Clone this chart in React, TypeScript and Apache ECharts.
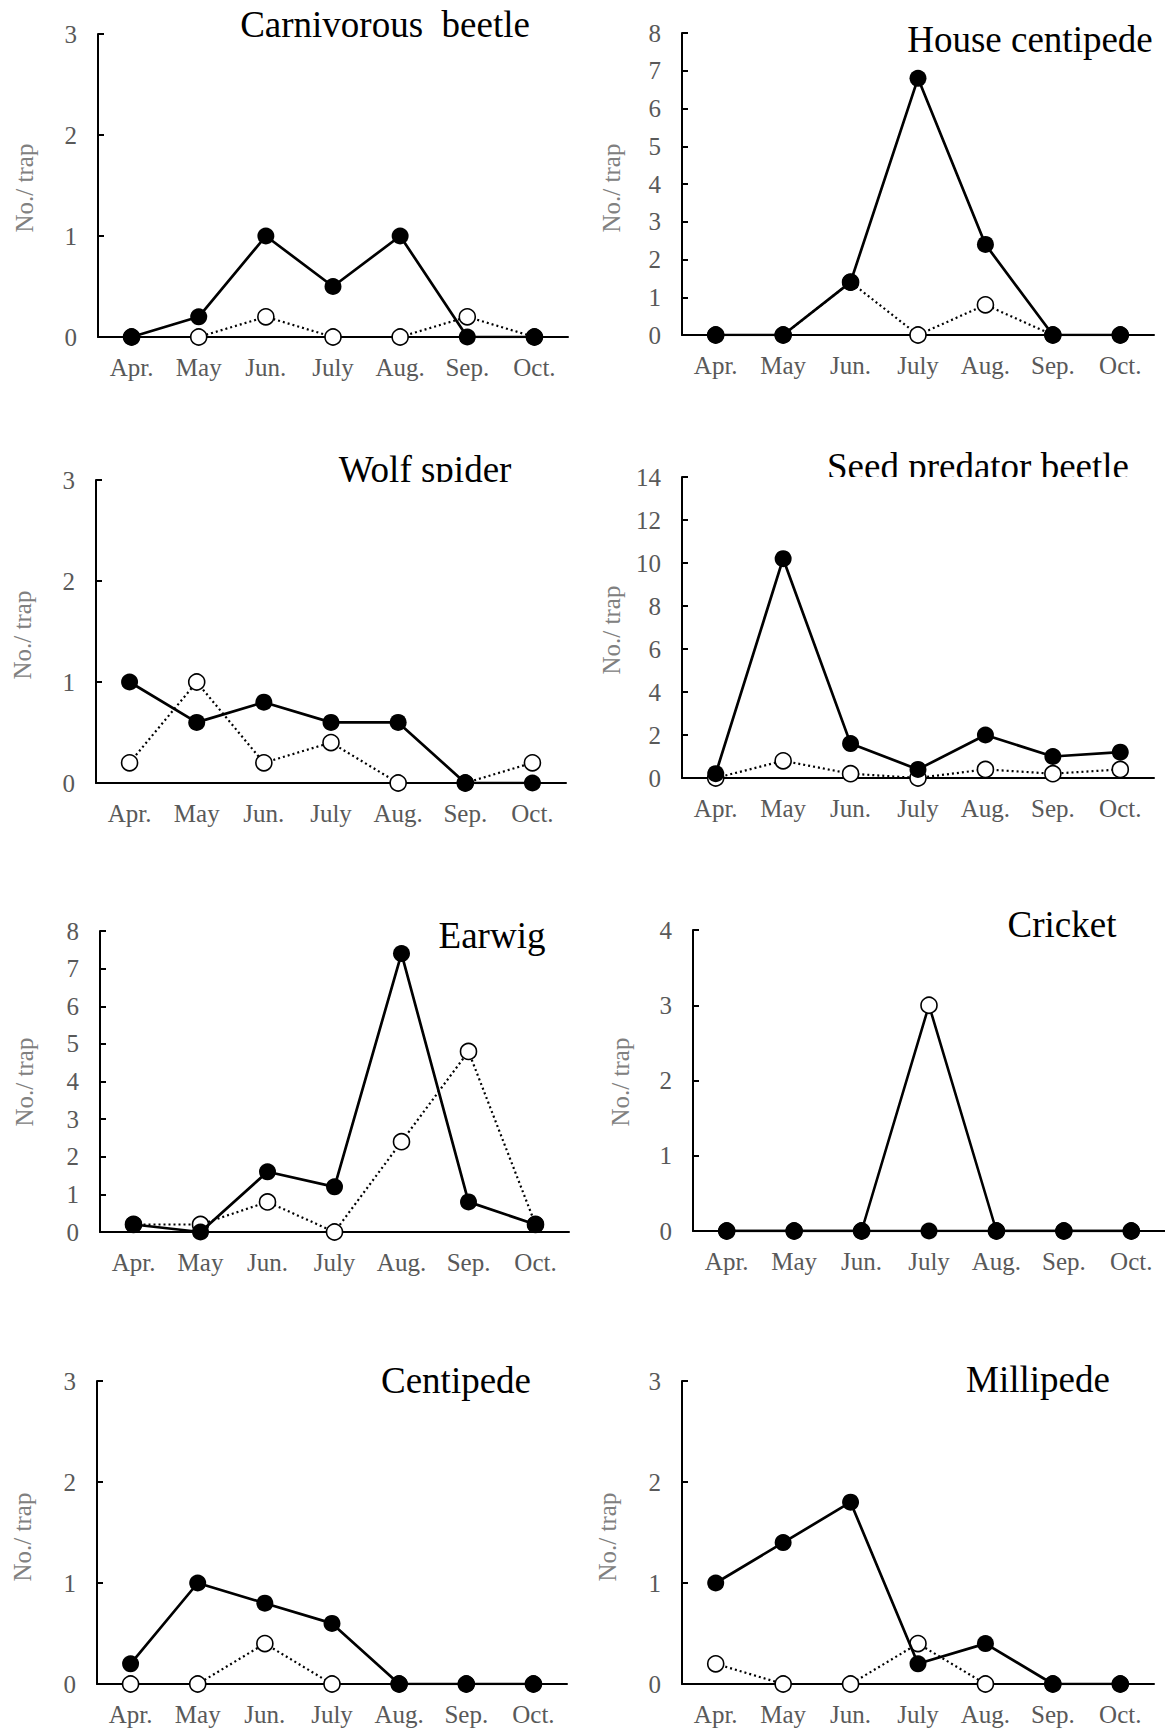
import React, { useEffect, useRef } from "react";
import * as echarts from "echarts";

const months = ["Apr.", "May", "Jun.", "July", "Aug.", "Sep.", "Oct."];

const titles = [
  "Carnivorous  beetle",
  "House centipede",
  "Wolf spider",
  "Seed predator beetle",
  "Earwig",
  "Cricket",
  "Centipede",
  "Millipede",
];

// filled circles (solid line)
const carnivorousFilled = [0, 0.2, 1, 0.5, 1, 0, 0];
const houseCentFilled = [0, 0, 1.4, 6.8, 2.4, 0, 0];
const wolfFilled = [1, 0.6, 0.8, 0.6, 0.6, 0, 0];
const seedFilled = [0.2, 10.2, 1.6, 0.4, 2.0, 1.0, 1.2];
const earwigFilled = [0.2, 0, 1.6, 1.2, 7.4, 0.8, 0.2];
const cricketFilled = [0, 0, 0, 0, 0, 0, 0];
const centipedeFilled = [0.2, 1, 0.8, 0.6, 0, 0, 0];
const millipedeFilled = [1, 1.4, 1.8, 0.2, 0.4, 0, 0];

// open circles (dotted line)
const carnivorousOpen = [0, 0, 0.2, 0, 0, 0.2, 0];
const houseCentOpen = [0, 0, 1.4, 0, 0.8, 0, 0];
const wolfOpen = [0.2, 1, 0.2, 0.4, 0, 0, 0.2];
const seedOpen = [0, 0.8, 0.2, 0, 0.4, 0.2, 0.4];
const earwigOpen = [0.2, 0.2, 0.8, 0, 2.4, 4.8, 0.2];
const cricketOpen = [0, 0, 0, 3, 0, 0, 0];
const centipedeOpen = [0, 0, 0.4, 0, 0, 0, 0];
const millipedeOpen = [0.2, 0, 0, 0.4, 0, 0, 0];

const yMax = [3, 8, 3, 14, 8, 4, 3, 3];
const yInterval = [1, 1, 1, 2, 1, 1, 1, 1];

const filledSets = [
  carnivorousFilled,
  houseCentFilled,
  wolfFilled,
  seedFilled,
  earwigFilled,
  cricketFilled,
  centipedeFilled,
  millipedeFilled,
];
const openSets = [
  carnivorousOpen,
  houseCentOpen,
  wolfOpen,
  seedOpen,
  earwigOpen,
  cricketOpen,
  centipedeOpen,
  millipedeOpen,
];
const openSolid = [false, false, false, false, false, true, false, false];

// layout: [left, top, width, height]
const grids = [
  [98, 34, 470, 303],
  [682, 33, 472, 302],
  [96, 480, 470, 303],
  [682, 477, 472, 301],
  [100, 931, 469, 301],
  [693, 930, 472, 301],
  [97, 1381, 470, 303],
  [682, 1381, 472, 303],
];
const titlePos = [
  [385, 24],
  [1030, 39],
  [425, 469],
  [978, 466],
  [492, 935],
  [1062, 924],
  [456, 1380],
  [1038, 1379],
];
const namePos = [
  [24, 188],
  [611, 188],
  [22, 635],
  [611, 630],
  [24, 1082],
  [620, 1082],
  [22, 1537],
  [607, 1537],
];

const FONT = "Liberation Serif";

export default function App() {
  const ref = useRef<HTMLDivElement>(null);
  useEffect(() => {
    if (!ref.current) return;
    const chart = echarts.init(ref.current, undefined, { renderer: "svg" });
    const grid: any[] = [];
    const xAxis: any[] = [];
    const yAxis: any[] = [];
    const series: any[] = [];
    const graphic: any[] = [];
    for (let i = 0; i < 8; i++) {
      const [l, t, w, h] = grids[i];
      grid.push({ left: l, top: t, width: w, height: h, containLabel: false });
      xAxis.push({
        type: "category",
        gridIndex: i,
        data: months,
        boundaryGap: true,
        axisLine: { show: true, lineStyle: { color: "#000", width: 2 } },
        axisTick: { show: false },
        axisLabel: {
          color: "#595959",
          fontSize: 25,
          fontFamily: FONT,
          margin: 18,
          interval: 0,
        },
        splitLine: { show: false },
      });
      yAxis.push({
        type: "value",
        gridIndex: i,
        min: 0,
        max: yMax[i],
        interval: yInterval[i],
        axisLine: { show: true, lineStyle: { color: "#000", width: 2 } },
        axisTick: {
          show: true,
          inside: true,
          length: 6,
          lineStyle: { color: "#000", width: 2 },
        },
        axisLabel: {
          color: "#595959",
          fontSize: 25,
          fontFamily: FONT,
          margin: 21,
        },
        splitLine: { show: false },
      });
      series.push({
        type: "line",
        xAxisIndex: i,
        yAxisIndex: i,
        data: openSets[i],
        symbol: "circle",
        symbolSize: 16,
        itemStyle: { color: "#fff", borderColor: "#000", borderWidth: 1.6 },
        lineStyle: openSolid[i]
          ? { color: "#000", width: 2.6, type: "solid" }
          : { color: "#000", width: 2.2, type: [2, 3] },
        z: 3,
      });
      series.push({
        type: "line",
        xAxisIndex: i,
        yAxisIndex: i,
        data: filledSets[i],
        symbol: "circle",
        symbolSize: 17,
        itemStyle: { color: "#000", borderColor: "#000", borderWidth: 0 },
        lineStyle: { color: "#000", width: 2.7, type: "solid" },
        z: 4,
      });
      graphic.push({
        type: "text",
        x: titlePos[i][0],
        y: titlePos[i][1],
        style: {
          text: titles[i],
          fontSize: 37,
          fontFamily: FONT,
          fill: "#000",
          align: "center",
          verticalAlign: "middle",
        },
        z: 10,
      });
      graphic.push({
        type: "text",
        x: namePos[i][0],
        y: namePos[i][1],
        rotation: Math.PI / 2,
        style: {
          text: "No./ trap",
          fontSize: 25,
          fontFamily: FONT,
          fill: "#808080",
          align: "center",
          verticalAlign: "middle",
        },
      });
    }
    // clipped titles (bottom cut off in the original)
    graphic.push({
      type: "rect",
      shape: { x: 320, y: 482, width: 220, height: 16 },
      style: { fill: "#fff" },
      z: 20,
    });
    graphic.push({
      type: "rect",
      shape: { x: 800, y: 477, width: 340, height: 18 },
      style: { fill: "#fff" },
      z: 20,
    });
    chart.setOption({
      animation: false,
      backgroundColor: "#fff",
      grid,
      xAxis,
      yAxis,
      series,
      graphic,
    });
    return () => chart.dispose();
  }, []);
  return (
    <div
      ref={ref}
      style={{ position: "absolute", left: 0, top: 0, width: 1165, height: 1731 }}
    />
  );
}
